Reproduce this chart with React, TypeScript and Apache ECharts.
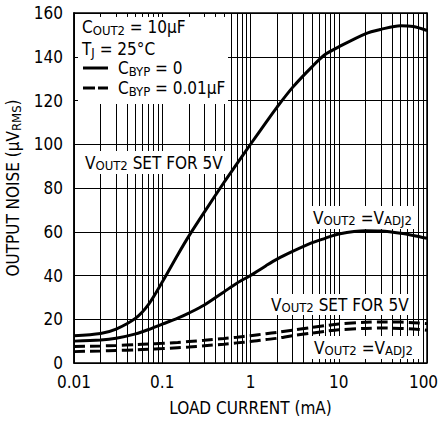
import React, { useEffect, useRef } from 'react';
import * as echarts from 'echarts';

// Load current (mA)
const loadCurrent = [0.01, 0.02, 0.03, 0.05, 0.07, 0.1, 0.15, 0.2, 0.3, 0.5, 0.7, 1, 1.5, 2, 3, 5, 7, 10, 20, 30, 50, 70, 100];
// Output noise (µV RMS)
const noise5V = [12.5, 13.5, 15.5, 20.5, 26.8, 37, 49.5, 58, 69, 82.5, 91, 100, 110, 117, 126, 135.5, 141, 144.5, 150.5, 152.5, 154.2, 153.8, 152];
const noiseAdj = [10, 10.5, 11.3, 13.3, 15.3, 17.8, 20.5, 22.8, 26.5, 32.5, 36.5, 40, 44.5, 47.5, 51, 55, 57, 59, 60.5, 60.3, 59.3, 58.3, 57];
const noise5VByp = [7.5, 7.8, 8.0, 8.4, 8.7, 9.0, 9.4, 9.8, 10.4, 11.2, 11.8, 12.5, 13.4, 14.0, 15.0, 16.3, 17.1, 17.8, 18.6, 18.8, 18.7, 18.4, 18.0];
const noiseAdjByp = [5.2, 5.5, 5.7, 6.0, 6.3, 6.6, 7.0, 7.3, 7.9, 8.6, 9.2, 9.8, 10.7, 11.3, 12.5, 13.7, 14.5, 15.2, 15.8, 16.0, 15.8, 15.5, 15.0];

const xTickLabels = ['0.01', '0.1', '1', '10', '100'];
const decades = [0.01, 0.1, 1, 10];
const minorSteps = [2, 3, 4, 5, 6, 7, 8, 9];

const FONT = "'DejaVu Sans Condensed', 'Liberation Sans Narrow', 'Liberation Sans', sans-serif";

const rich = {
  m: { fontSize: 17, fontFamily: FONT, color: '#000', lineHeight: 19 },
  s: { fontSize: 13, fontFamily: FONT, color: '#000', lineHeight: 12, verticalAlign: 'bottom' as const },
};

export default function App() {
  const ref = useRef<HTMLDivElement>(null);
  useEffect(() => {
    const chart = echarts.init(ref.current!, null, { renderer: 'svg' });
    const minorGridX: number[] = [];
    decades.forEach((d) => minorSteps.forEach((k) => minorGridX.push(+(d * k).toPrecision(3))));

    const mk = (name: string, vals: number[], dashed: boolean) => ({
      type: 'line',
      name,
      data: loadCurrent.map((x, i) => [x, vals[i]]),
      symbol: 'none',
      showSymbol: false,
      smooth: 0.3,
      silent: true,
      z: 2,
      lineStyle: { color: '#000', width: 3, type: dashed ? [11, 5] : 'solid' },
    });

    const blackLine = { color: '#000', width: 1.5 };

    const option: any = {
      animation: false,
      backgroundColor: '#fff',
      grid: { left: 74, right: 11, top: 13, bottom: 58, containLabel: false, outerBoundsMode: 'none' },
      xAxis: [
        {
          type: 'log',
          logBase: 10,
          min: 0.01,
          max: 100,
          position: 'bottom',
          z: 0,
          axisLine: { show: true, onZero: false, lineStyle: blackLine },
          axisTick: { show: false },
          splitLine: { show: true, lineStyle: { color: '#000', width: 1 } },
          axisLabel: {
            color: '#000',
            fontSize: 17,
            fontFamily: FONT,
            margin: 10,
            formatter: (v: number) => {
              const i = Math.round(Math.log10(v)) + 2;
              const t = xTickLabels[i] ?? '';
              return i === xTickLabels.length - 1 ? `{r|${t}}` : t;
            },
            rich: {
              r: { fontSize: 17, fontFamily: FONT, color: '#000', padding: [0, 7, 0, 0] },
            },
          },
          name: 'LOAD CURRENT (mA)',
          nameLocation: 'middle',
          nameGap: 36,
          nameTextStyle: { color: '#000', fontSize: 17, fontFamily: FONT },
        },
        {
          type: 'log',
          logBase: 10,
          min: 0.01,
          max: 100,
          position: 'top',
          z: 10,
          axisLine: { show: true, onZero: false, lineStyle: blackLine },
          axisTick: { show: true, inside: true, length: 4, lineStyle: { color: '#000', width: 1 } },
          axisLabel: { show: false },
          splitLine: { show: false },
        },
      ],
      yAxis: [
        {
          type: 'value',
          min: 0,
          max: 160,
          interval: 20,
          position: 'left',
          z: 0,
          axisLine: { show: true, lineStyle: blackLine },
          axisTick: { show: false },
          splitLine: { show: true, lineStyle: { color: '#000', width: 1 } },
          axisLabel: { color: '#000', fontSize: 17, fontFamily: FONT, margin: 11 },
          name: '{m|OUTPUT NOISE (µV}{s|RMS}{m|)}',
          nameLocation: 'middle',
          nameGap: 49,
          nameRotate: 90,
          nameTextStyle: { rich },
        },
        {
          type: 'value',
          min: 0,
          max: 160,
          interval: 20,
          position: 'left',
          z: 10,
          axisLine: { show: true, lineStyle: blackLine },
          axisTick: { show: true, inside: true, length: 4, lineStyle: { color: '#000', width: 1 } },
          axisLabel: { show: false },
          splitLine: { show: false },
        },
        {
          type: 'value',
          min: 0,
          max: 160,
          interval: 20,
          position: 'right',
          z: 10,
          axisLine: { show: true, lineStyle: blackLine },
          axisTick: { show: false },
          axisLabel: { show: false },
          splitLine: { show: false },
        },
      ],
      series: [
        {
          type: 'line',
          name: 'grid',
          data: [[0.01, 0]],
          symbol: 'none',
          silent: true,
          z: 1,
          lineStyle: { opacity: 0 },
          markLine: {
            z: 1,
            silent: true,
            animation: false,
            symbol: ['none', 'none'],
            label: { show: false },
            lineStyle: { color: '#000', width: 1, type: 'solid' },
            data: minorGridX.map((v) => ({ xAxis: v })),
          },
        },
        {
          type: 'line',
          name: 'topticks',
          data: [[0.01, 0]],
          symbol: 'none',
          silent: true,
          z: 10,
          lineStyle: { opacity: 0 },
          markLine: {
            z: 10,
            silent: true,
            animation: false,
            symbol: ['none', 'none'],
            label: { show: false },
            lineStyle: { color: '#000', width: 1, type: 'solid' },
            data: minorGridX.map((v) => [{ coord: [v, 160] }, { coord: [v, 158.2] }]),
          },
        },
        mk('5V, CBYP=0', noise5V, false),
        mk('ADJ, CBYP=0', noiseAdj, false),
        mk('5V, CBYP=0.01', noise5VByp, true),
        mk('ADJ, CBYP=0.01', noiseAdjByp, true),
      ],
      graphic: [
        { type: 'rect', z: 1.5, shape: { x: 75, y: 14, width: 153, height: 90 }, style: { fill: '#fff' } },
        { type: 'text', z: 1.6, style: { x: 82, y: 27, verticalAlign: 'middle', text: '{m|C}{s|OUT2}{m| = 10µF}', rich } },
        { type: 'text', z: 1.6, style: { x: 82, y: 49, verticalAlign: 'middle', text: '{m|T}{s|J}{m| = 25°C}', rich } },
        { type: 'line', z: 1.6, shape: { x1: 83, y1: 68, x2: 108, y2: 68 }, style: { stroke: '#000', lineWidth: 3 } },
        { type: 'text', z: 1.6, style: { x: 118, y: 68, verticalAlign: 'middle', text: '{m|C}{s|BYP}{m| = 0}', rich } },
        { type: 'line', z: 1.6, shape: { x1: 83, y1: 88, x2: 108, y2: 88 }, style: { stroke: '#000', lineWidth: 3, lineDash: [12, 3] } },
        { type: 'text', z: 1.6, style: { x: 118, y: 88, verticalAlign: 'middle', text: '{m|C}{s|BYP}{m| = 0.01µF}', rich } },
        {
          type: 'text', z: 1.6,
          style: { x: 75, y: 151, text: '{m|V}{s|OUT2}{m| SET FOR 5V}', rich, backgroundColor: '#fff', padding: [2, 6, 2, 10] },
        },
        {
          type: 'text', z: 1.6,
          style: { x: 310, y: 206, text: '{m|V}{s|OUT2}{m| =V}{s|ADJ2}', rich, backgroundColor: '#fff', padding: [2, 3, 2, 3] },
        },
        {
          type: 'text', z: 1.6,
          style: { x: 268, y: 294, text: '{m|V}{s|OUT2}{m| SET FOR 5V}', rich, backgroundColor: '#fff', padding: [1, 3, 1, 3] },
        },
        {
          type: 'text', z: 1.6,
          style: { x: 311, y: 336, text: '{m|V}{s|OUT2}{m| =V}{s|ADJ2}', rich, backgroundColor: '#fff', padding: [2, 10, 2, 3] },
        },
      ],
    };
    chart.setOption(option);
    return () => chart.dispose();
  }, []);
  return (
    <div
      ref={ref}
      style={{ position: 'absolute', left: 0, top: 0, width: 438, height: 421, background: '#fff' }}
    />
  );
}
